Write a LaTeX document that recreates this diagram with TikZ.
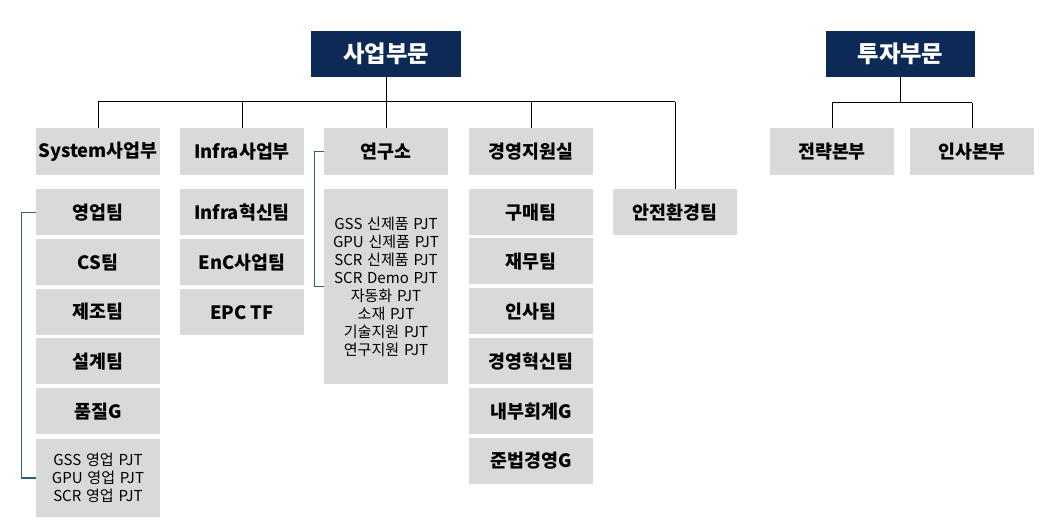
\documentclass[tikz,border=0pt]{standalone}
\usepackage{fontspec}
\setmainfont{Noto Sans CJK KR}
\newfontfamily\pjtfont{Noto Sans CJK KR}[WordSpace=1.4]
\usepackage{tikz}
\definecolor{navy}{HTML}{0C2A55}
\definecolor{boxgray}{HTML}{D9D9D9}
\definecolor{brk}{HTML}{2F5F7F}
\tikzstyle{box}=[fill=boxgray, inner sep=0pt, minimum width=93pt, align=center]
\tikzstyle{head}=[fill=navy, text=white, inner sep=0pt, minimum width=112pt, minimum height=34.5pt, font=\fontsize{17.5}{19}\selectfont\bfseries]
\tikzstyle{unit}=[box, minimum height=35.25pt, font=\fontsize{13.8}{15}\selectfont\bfseries]
\tikzstyle{team}=[box, minimum height=34.5pt, font=\fontsize{13.8}{15}\selectfont\bfseries]
\tikzstyle{pjt}=[box, font=\pjtfont\fontsize{11.3}{13.5}\selectfont]
\tikzstyle{link}=[draw=black, line width=0.75pt]
\tikzstyle{bracket}=[draw=brk, line width=0.9pt]

\begin{document}
\begin{tikzpicture}[x=0.75pt, y=-0.75pt]
        \useasboundingbox (0,0) rectangle (1047,530);
        \node[head] (biz) at (386, 54) {사업부문};
        \node[head] (inv) at (900.5, 54) {투자부문};
        \coordinate (bus) at (386, 102);
        \coordinate (ibus) at (900.5, 103);
        \node[unit] (sys) at (98, 151.5) {System사업부};
        \node[unit] (infra) at (242, 151.5) {Infra사업부};
        \node[unit] (lab) at (386, 151.5) {연구소};
        \node[unit] (mgmt) at (531, 151.5) {경영지원실};
        \node[unit] (strat) at (832, 151.5) {전략본부};
        \node[unit] (hr) at (972, 151.5) {인사본부};
        \node[team] (safe) at (675, 212.5) {안전환경팀};
        \node[team] (sales) at (98, 212.5) {영업팀};
        \node[team] (cs) at (98, 262.5) {CS팀};
        \node[team] (make) at (98, 312) {제조팀};
        \node[team] (design) at (98, 361.5) {설계팀};
        \node[team] (qual) at (98, 411.5) {품질G};
        \node[pjt, minimum height=58.5pt] (salespjt) at (98, 478) {GSS 영업 PJT\\GPU 영업 PJT\\SCR 영업 PJT};
        \node[team] (innov) at (242, 212.5) {Infra혁신팀};
        \node[team] (enc) at (242, 262.5) {EnC사업팀};
        \node[team] (epc) at (242, 312.5) {EPC TF};
        \node[pjt, minimum height=146.25pt] (labpjt) at (386, 286.5) {GSS 신제품 PJT\\GPU 신제품 PJT\\SCR 신제품 PJT\\SCR Demo PJT\\자동화 PJT\\소재 PJT\\기술지원 PJT\\연구지원 PJT};
        \node[team] (buy) at (531, 212.5) {구매팀};
        \node[team] (fin) at (531, 261.5) {재무팀};
        \node[team] (pers) at (531, 311.5) {인사팀};
        \node[team] (minno) at (531, 361.5) {경영혁신팀};
        \node[team] (audit) at (531, 411.5) {내부회계G};
        \node[team] (comp) at (531, 461) {준법경영G};
        \draw[link] (biz.south) -- (bus);
        \draw[link] (bus -| sys.north) -- (bus -| safe.north);
        \foreach \n in {sys, infra, lab, mgmt, safe}
            \draw[link] (bus -| \n.north) -- (\n.north);
        \draw[link] (inv.south) -- (ibus);
        \draw[link] (ibus -| strat.north) -- (ibus -| hr.north);
        \foreach \n in {strat, hr}
            \draw[link] (ibus -| \n.north) -- (\n.north);
        \draw[bracket] (sales.west) -- ++(-14, 0) |- (salespjt.west);
        \draw[bracket] (lab.west) -- ++(-9, 0) |- (labpjt.west);
    \end{tikzpicture}
\end{document}
